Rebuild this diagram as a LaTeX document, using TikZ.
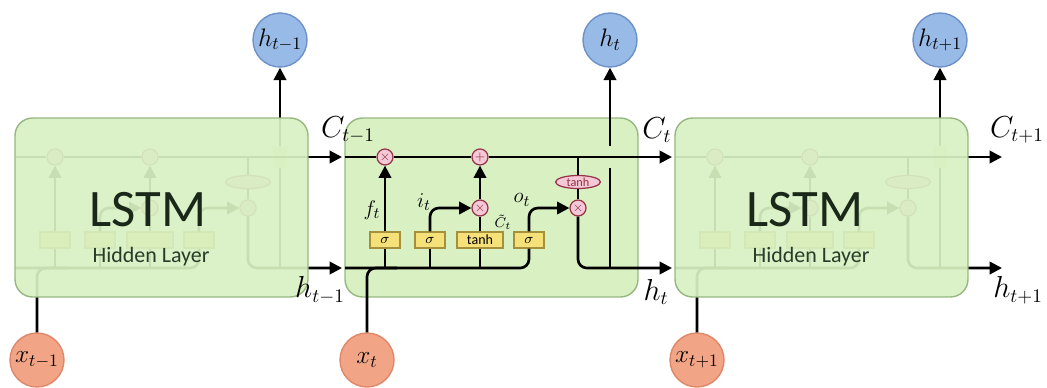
\documentclass[tikz,border=0pt]{standalone}
\usepackage{fontspec}
\usepackage{amsmath}
\usepackage{tikz}
\usetikzlibrary{shapes.geometric, arrows.meta, positioning, calc}
\newfontfamily\lstmfont{Carlito}

\definecolor{cellfill}{RGB}{216,240,194}
\definecolor{celledge}{RGB}{150,184,128}
\definecolor{gatefill}{RGB}{246,224,122}
\definecolor{gateedge}{RGB}{165,145,60}
\definecolor{opfill}{RGB}{244,200,214}
\definecolor{opedge}{RGB}{150,50,70}
\definecolor{hfill}{RGB}{152,186,230}
\definecolor{hedge}{RGB}{110,145,200}
\definecolor{xfill}{RGB}{242,164,134}
\definecolor{xedge}{RGB}{222,135,105}

% faded cells keep no gate texts
\newif\ifghost
\newcommand{\gtext}[1]{\ifghost\else#1\fi}

% one LSTM cell: #1 input label, #2 output label
\newcommand{\lstmcell}[2]{%
  \node[hnode] (h) at (610,40) {$#2$};
  \node[xnode] (x) at (367,360) {$#1$};
  \node[gate] (sf) at (385,240) {\gtext{$\sigma$}};
  \node[gate] (si) at (430,240) {\gtext{$\sigma$}};
  \node[gate, minimum width=0.92cm] (tg) at (480,240) {\gtext{tanh}};
  \node[gate] (so) at (529,240) {\gtext{$\sigma$}};
  \node[op] (mf) at (385,157) {\gtext{$\times$}};
  \node[op] (add) at (480,157) {\gtext{$+$}};
  \node[op] (mi) at (480,208) {\gtext{$\times$}};
  \node[op] (mo) at (578,208) {\gtext{$\times$}};
  \node[tanhop] (tc) at (578,182) {\gtext{tanh}};
  \coordinate (cin) at (345,157);
  \coordinate (cout) at (672,157);
  \coordinate (hin) at (345,268);
  \coordinate (hout) at (672,268);
  % hidden state in
  \draw[rounded corners=5pt] (hin) -| (so);
  \draw[rounded corners=5pt] (x) |- ($(x |- hin)+(30,0)$);
  \draw (sf |- hin) -- (sf);
  \draw (si |- hin) -- (si);
  \draw (tg |- hin) -- (tg);
  % gates
  \draw[->] (sf) -- (mf);
  \draw[->, rounded corners=5pt] (si) |- (mi);
  \draw (tg) -- (mi);
  \draw[->] (mi) -- (add);
  \draw[->, rounded corners=5pt] (so) |- (mo);
  % output
  \draw (tc.north |- cin) -- (tc);
  \draw (tc) -- (mo);
  \draw[->, rounded corners=5pt] (mo) |- (hout);
  \draw[->] (h |- hout) -- (h);
  \fill[cellfill] ($(h |- cin)+(-7,-11)$) rectangle ($(h |- cin)+(7,11)$);
  % cell state
  \draw[->] (cin) -- (mf) -- (add) -- (cout);
}

\begin{document}
\begin{tikzpicture}[x=0.02cm, y=-0.02cm,
  >={Triangle[length=7pt,width=7pt]},
  line width=1.5pt,
  cellbox/.style={rectangle, draw=celledge, fill=cellfill, line width=0.8pt, rounded corners=10pt, minimum width=5.86cm, minimum height=3.58cm, inner sep=0pt},
  gate/.style={rectangle, draw=gateedge, fill=gatefill, line width=0.7pt, minimum width=0.6cm, minimum height=0.32cm, inner sep=0pt, font=\lstmfont\fontsize{8}{9}\selectfont},
  op/.style={circle, draw=opedge, fill=opfill, line width=0.7pt, minimum size=0.32cm, inner sep=0pt, text=opedge, font=\fontsize{7}{7}\selectfont},
  tanhop/.style={ellipse, draw=opedge, fill=opfill, line width=0.7pt, minimum width=0.9cm, minimum height=0.26cm, inner sep=0pt, text=opedge, font=\lstmfont\fontsize{7}{7}\selectfont},
  hnode/.style={circle, draw=hedge, fill=hfill, line width=0.8pt, minimum size=1.08cm, inner sep=0pt, font=\fontsize{14}{14}\selectfont},
  xnode/.style={circle, draw=xedge, fill=xfill, line width=0.8pt, minimum size=1.08cm, inner sep=0pt, font=\fontsize{14}{14}\selectfont},
  lbl/.style={font=\fontsize{16}{18}\selectfont},
  glbl/.style={font=\fontsize{13}{14}\selectfont},
  big/.style={font=\lstmfont\fontsize{30}{32}\selectfont, text={rgb,255:red,25;green,40;blue,25}},
  small/.style={font=\lstmfont\fontsize{12.5}{14}\selectfont, text={rgb,255:red,40;green,60;blue,40}}
]
\useasboundingbox (0,0) rectangle (1047,387);

% left cell, faded
\begin{scope}[shift={(-330,0)}, name prefix=L-]
  \ghosttrue
  \lstmcell{x_{t-1}}{h_{t-1}}
\end{scope}
\node[cellbox, fill opacity=0.92] (cellL) at (161.5,207.5) {};
\node[big] (lstmL) at (148,210) {LSTM};
\node[small] (hidL) at (151,257) {Hidden Layer};

% middle cell
\node[cellbox] (cellM) at (491.5,207.5) {};
\begin{scope}[name prefix=M-]
  \ghostfalse
  \lstmcell{x_t}{h_t}
\end{scope}
\node[glbl] (fLbl) at (372,210) {$f_t$};
\node[glbl] (iLbl) at (424,202) {$i_t$};
\node[glbl] (oLbl) at (522,200) {$o_t$};
\node[font=\fontsize{8}{9}\selectfont, inner sep=1pt] (cLbl) at (503,222) {$\tilde{C}_t$};

% right cell, faded
\begin{scope}[shift={(330,0)}, name prefix=R-]
  \ghosttrue
  \lstmcell{x_{t+1}}{h_{t+1}}
\end{scope}
\node[cellbox, fill opacity=0.92] (cellR) at (821.5,207.5) {};
\node[big] (lstmR) at (805,210) {LSTM};
\node[small] (hidR) at (811,257) {Hidden Layer};

% state labels
\node[lbl] (c1) at (348,130) {$C_{t-1}$};
\node[lbl] (h1) at (320,290) {$h_{t-1}$};
\node[lbl] (c2) at (657,130) {$C_t$};
\node[lbl] (h2) at (656,292) {$h_t$};
\node[lbl] (c3) at (1017,130) {$C_{t+1}$};
\node[lbl] (h3) at (1018,290) {$h_{t+1}$};
\end{tikzpicture}
\end{document}
